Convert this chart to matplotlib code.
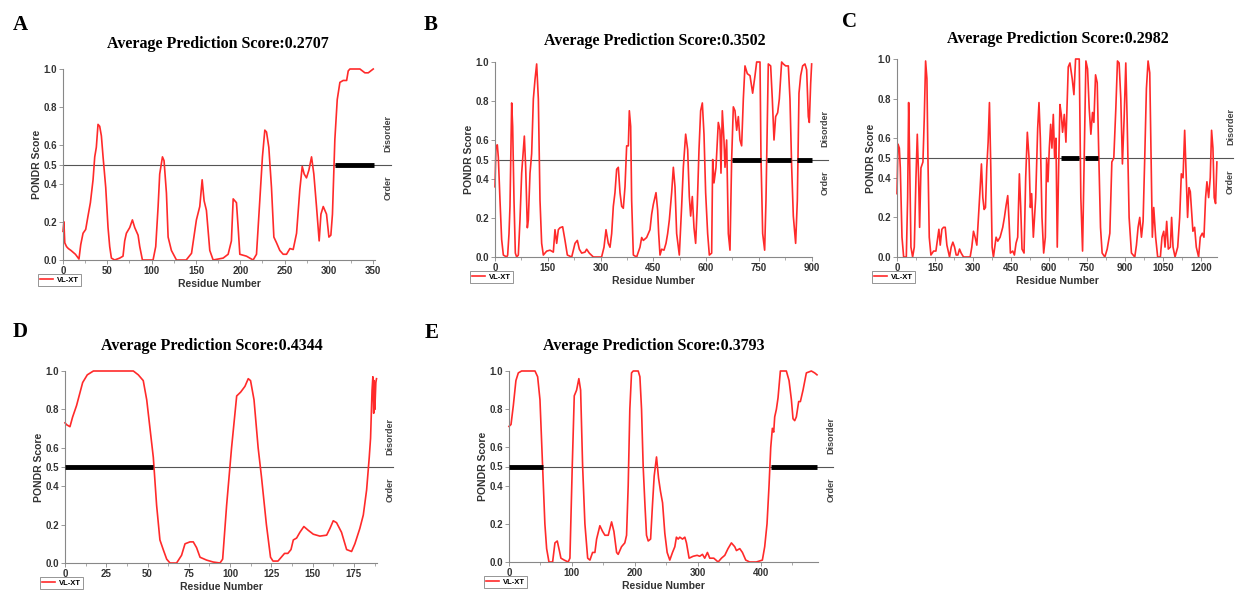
import matplotlib.pyplot as plt
from matplotlib.ticker import MultipleLocator

plt.rcParams['font.family'] = ['Liberation Sans', 'DejaVu Sans']
plt.rcParams['font.weight'] = 'bold'
plt.rcParams['axes.labelweight'] = 'bold'

W, H = 1235, 592

# ---- datos (residuo, puntuacion PONDR) ----
a_pts = [(0, 0.15), (1, 0.2), (2, 0.09), (4, 0.07), (6, 0.06), (9, 0.05), (14, 0.03), (18, 0.005),
         (20, 0.08), (22.6, 0.14), (25.6, 0.16), (28.2, 0.23), (30.9, 0.30), (33.9, 0.42), (35.8, 0.54),
         (37.6, 0.59), (39.5, 0.71), (41.4, 0.70), (43.3, 0.65), (45.2, 0.54), (48.2, 0.38), (50.8, 0.17),
         (52.7, 0.07), (54.6, 0.01), (58.3, 0.0), (64, 0.01), (67.7, 0.02), (69.6, 0.10), (71.5, 0.14),
         (75.3, 0.17), (78.3, 0.21), (80.9, 0.17), (84.7, 0.13), (86.6, 0.07), (89.6, 0.0), (101.6, 0.0),
         (104.6, 0.07), (107.3, 0.28), (109.1, 0.45), (112.2, 0.54), (114, 0.52), (116.7, 0.35),
         (118.6, 0.12), (122.3, 0.05), (128, 0.0), (139, 0.0), (145, 0.035), (150.5, 0.21), (154.3, 0.28),
         (157, 0.42), (159.2, 0.31), (161.8, 0.26), (165.6, 0.05), (169.4, 0.0), (180.7, 0.01),
         (186.3, 0.03), (190, 0.10), (192, 0.32), (195.7, 0.30), (197.6, 0.17), (199.5, 0.03), (207, 0.02),
         (214.5, 0.0), (218.3, 0.03), (222, 0.31), (225, 0.54), (227.7, 0.68), (229.6, 0.67), (232.2, 0.59),
         (235.2, 0.38), (237.9, 0.12), (240.9, 0.09), (244.6, 0.05), (248.4, 0.03), (252.2, 0.03),
         (256, 0.06), (259.7, 0.055), (263.5, 0.14), (267.2, 0.37), (269.9, 0.49), (272.1, 0.45),
         (274.7, 0.43), (277.4, 0.47), (280.4, 0.54), (283, 0.45), (286, 0.28), (289, 0.10), (291, 0.24),
         (293.6, 0.28), (297.3, 0.24), (300, 0.12), (302.2, 0.13), (304, 0.24), (306.7, 0.63),
         (309.4, 0.84), (312.4, 0.93), (316.1, 0.94), (320, 0.94), (321.8, 0.99), (323.7, 1.0),
         (335, 1.0), (340.6, 0.98), (344.4, 0.98), (350, 1.0)]
a_bars = [(307, 351)]

b_pts = [(0, 0.36), (2.8, 0.57), (6.6, 0.575), (9.5, 0.51), (14.2, 0.29), (18.9, 0.09), (23.7, 0.01),
         (33.2, 0.0), (36, 0.01), (39.8, 0.12), (42.6, 0.26), (47.4, 0.79), (50.2, 0.67), (54, 0.29),
         (57.8, 0.02), (61.6, 0.0), (66.3, 0.01), (71, 0.19), (75.8, 0.43), (83.4, 0.62), (87.2, 0.46),
         (91.9, 0.15), (94.7, 0.19), (99.5, 0.43), (104.2, 0.53), (109, 0.81), (113.7, 0.91), (118.4, 0.99),
         (123.2, 0.81), (127.9, 0.29), (132.6, 0.07), (137.4, 0.01), (146.8, 0.03), (156.3, 0.035),
         (165.8, 0.025), (170.5, 0.14), (175.3, 0.07), (180, 0.14), (184.7, 0.15), (192.3, 0.155),
         (199, 0.085), (205.6, 0.01), (218, 0.0), (227.4, 0.07), (234, 0.085), (239.7, 0.04), (246.3, 0.02),
         (255.8, 0.025), (260.5, 0.04), (268, 0.02), (279.5, 0.0), (303, 0.0), (309.8, 0.05), (315.5, 0.14),
         (322, 0.07), (326.9, 0.05), (331.6, 0.12), (336.3, 0.26), (341, 0.33), (345.8, 0.45), (350.5, 0.46),
         (355.3, 0.33), (360, 0.26), (364.7, 0.25), (369.5, 0.36), (374.2, 0.57), (379, 0.57), (381.8, 0.75),
         (385.6, 0.67), (388.4, 0.29), (393.2, 0.01), (402.6, 0.0), (412, 0.05), (416.9, 0.10),
         (421.6, 0.085), (431, 0.10), (440.5, 0.14), (445.3, 0.22), (450, 0.27), (457.6, 0.33), (462.3, 0.24),
         (465.2, 0.12), (469, 0.01), (473.7, 0.04), (480.3, 0.035), (486, 0.07), (490.7, 0.12), (495.5, 0.19),
         (502.1, 0.33), (506.9, 0.46), (511.6, 0.36), (516.3, 0.12), (523.9, 0.01), (530.5, 0.26),
         (535.3, 0.46), (541.9, 0.63), (547.6, 0.55), (552.3, 0.31), (556.1, 0.21), (560.8, 0.31),
         (565.6, 0.15), (570.3, 0.07), (575, 0.27), (579.8, 0.55), (584.5, 0.75), (589.3, 0.79), (594, 0.63),
         (598.7, 0.33), (604.4, 0.12), (609.2, 0.01), (615.8, 0.02), (618.7, 0.5), (622.4, 0.38),
         (628.1, 0.46), (634.7, 0.69), (639.5, 0.65), (642.3, 0.43), (646.1, 0.75), (650.8, 0.6),
         (653.7, 0.46), (658.4, 0.6), (663.2, 0.12), (667.9, 0.035), (672.6, 0.5), (677.4, 0.77),
         (682.1, 0.75), (686.9, 0.65), (691.6, 0.72), (696.3, 0.6), (701, 0.57), (705.8, 0.81), (710.5, 0.98),
         (717.2, 0.94), (724.8, 0.93), (732.3, 0.84), (739, 0.93), (743.7, 1.0), (753.2, 1.0), (756, 0.51),
         (760.8, 0.12), (766.4, 0.035), (770.2, 0.29), (776.8, 0.99), (783.5, 0.98), (788.2, 0.81),
         (793, 0.6), (797.7, 0.72), (803.4, 0.74), (808.1, 0.81), (814.7, 1.0), (819.5, 0.99), (826.1, 0.98),
         (833.7, 0.98), (838.4, 0.81), (843.2, 0.46), (847.9, 0.21), (854.5, 0.07), (859.3, 0.29),
         (864, 0.84), (868.8, 0.93), (874.4, 0.98), (881, 0.99), (885.8, 0.96), (890.5, 0.72),
         (893.4, 0.69), (897.2, 0.89), (900, 0.99)]
b_bars = [(675, 757), (774, 841), (859, 900)]

c_pts = [(0, 0.32), (3.9, 0.57), (9.2, 0.55), (13, 0.45), (19.7, 0.1), (26.2, 0.0), (36.7, 0.0), (42, 0.3),
         (45.9, 0.78), (49.8, 0.5), (55, 0.05), (61.6, 0.0), (68.2, 0.05), (74.8, 0.4), (80, 0.62),
         (85.2, 0.4), (89.2, 0.15), (94.4, 0.45), (102.3, 0.48), (107.5, 0.7), (112.8, 0.99), (118, 0.9),
         (122, 0.5), (127.2, 0.1), (133.8, 0.01), (144.3, 0.03), (153.4, 0.03), (160, 0.09), (165.2, 0.14),
         (170.5, 0.06), (177, 0.14), (183.6, 0.15), (190.2, 0.15), (196.7, 0.06), (207.2, 0.0), (213.8, 0.05),
         (220.3, 0.075), (227, 0.05), (233.4, 0.01), (240, 0.01), (246.6, 0.04), (253, 0.02), (262.3, 0.0),
         (288.5, 0.0), (295, 0.05), (301.6, 0.13), (308, 0.1), (314.8, 0.06), (321.3, 0.2), (328, 0.35),
         (333, 0.47), (338.4, 0.3), (343.6, 0.24), (348.9, 0.25), (354, 0.45), (359.4, 0.58), (364.6, 0.78),
         (369.9, 0.45), (375.1, 0.05), (380.3, 0.0), (390.8, 0.1), (397.4, 0.08), (406.6, 0.1), (417, 0.15),
         (423.6, 0.2), (430.2, 0.26), (436.7, 0.31), (442, 0.18), (447.2, 0.02), (456.4, 0.03), (463, 0.01),
         (469.5, 0.07), (476, 0.1), (482.6, 0.42), (487.9, 0.25), (493, 0.04), (501, 0.02), (507.5, 0.4),
         (514, 0.63), (520.7, 0.5), (526, 0.25), (531, 0.32), (537.7, 0.1), (547, 0.3), (554.8, 0.65),
         (560, 0.78), (565.3, 0.6), (571.8, 0.2), (578.4, 0.02), (585, 0.1), (590, 0.5), (595.4, 0.38),
         (600.7, 0.55), (606, 0.67), (611, 0.55), (616.4, 0.72), (621.6, 0.5), (626.9, 0.6), (632, 0.05),
         (637.4, 0.45), (642.6, 0.77), (647.9, 0.72), (653, 0.63), (659.7, 0.72), (666.2, 0.58),
         (675.4, 0.96), (682, 0.98), (691, 0.9), (697.7, 0.82), (704.3, 1.0), (718.7, 1.0), (725, 0.3),
         (731.8, 0.03), (738.4, 0.5), (745, 0.99), (751.5, 0.95), (758, 0.75), (764.6, 0.62), (771, 0.73),
         (776.4, 0.68), (783, 0.92), (789.6, 0.88), (796, 0.5), (802.6, 0.15), (809, 0.02), (819.7, 0.0),
         (828.9, 0.04), (839.4, 0.12), (847.3, 0.48), (855, 0.5), (863, 0.75), (869.5, 0.99), (876, 0.98),
         (882.6, 0.8), (889, 0.47), (895.7, 0.7), (902.3, 0.98), (907.5, 0.7), (915.4, 0.2), (924.6, 0.02),
         (937.7, 0.0), (944.3, 0.06), (950.8, 0.15), (957.4, 0.2), (964, 0.1), (970.5, 0.18), (977, 0.5),
         (983.6, 0.85), (990.2, 0.99), (996.8, 0.93), (1003.3, 0.4), (1007, 0.1), (1012.5, 0.25),
         (1020, 0.1), (1028, 0.0), (1038.7, 0.0), (1045, 0.1), (1052, 0.13), (1057, 0.05), (1063.6, 0.18),
         (1070, 0.04), (1078, 0.05), (1083, 0.2), (1088.6, 0.05), (1096.5, 0.0), (1107, 0.05),
         (1114.8, 0.2), (1121.3, 0.42), (1128, 0.4), (1134.5, 0.64), (1141, 0.4), (1146, 0.2),
         (1151.5, 0.35), (1156.7, 0.33), (1163.3, 0.2), (1167, 0.13), (1173.8, 0.15), (1180.3, 0.05),
         (1189.5, 0.0), (1196, 0.1), (1204, 0.12), (1210.5, 0.1), (1217, 0.3), (1222.3, 0.38), (1229, 0.3),
         (1235.4, 0.4), (1240.6, 0.64), (1246, 0.55), (1251, 0.3), (1256.4, 0.27), (1261.6, 0.48)]
c_bars = [(645, 719), (741, 793)]

d_pts = [(0, 0.73), (1, 0.72), (3, 0.71), (4.6, 0.76), (7, 0.82), (10.7, 0.94), (13.5, 0.98), (17.2, 1.0),
         (41.4, 1.0), (44.4, 0.98), (47.4, 0.95), (49.5, 0.85), (51.5, 0.7), (53.5, 0.55), (55.5, 0.3),
         (57.5, 0.12), (59.5, 0.07), (61.6, 0.02), (63.6, 0.0), (67.6, 0.0), (70.6, 0.04), (72.7, 0.1),
         (75.7, 0.11), (77.7, 0.11), (79.7, 0.08), (81.8, 0.03), (85.8, 0.015), (89.8, 0.005), (93.9, 0.0),
         (95.5, 0.02), (97.9, 0.3), (100.9, 0.6), (104, 0.87), (106.4, 0.89), (109, 0.92), (111, 0.96),
         (112.4, 0.95), (114.5, 0.85), (117, 0.6), (119, 0.45), (122, 0.2), (124.5, 0.03), (126, 0.01),
         (129, 0.01), (131, 0.03), (133, 0.05), (135, 0.05), (136.9, 0.07), (138.3, 0.12), (140.3, 0.13),
         (142.3, 0.16), (144.7, 0.19), (147.4, 0.17), (150.4, 0.15), (154.4, 0.14), (158.5, 0.145),
         (160.5, 0.18), (162.5, 0.22), (164.5, 0.21), (167.5, 0.16), (170.6, 0.07), (173.6, 0.06),
         (175.6, 0.1), (178.6, 0.18), (180.7, 0.25), (182.7, 0.38), (184.3, 0.55), (185.1, 0.65),
         (186, 0.9), (186.5, 0.97), (187, 0.78), (187.3, 0.95), (187.7, 0.8), (188.3, 0.94), (188.7, 0.96)]
d_bars = [(0, 53.5)]

e_pts = [(0, 0.71), (3.2, 0.72), (6.9, 0.82), (11, 0.95), (14.8, 0.99), (20, 1.0), (41.3, 1.0), (45.5, 0.97),
         (49.2, 0.85), (53.4, 0.5), (57, 0.2), (59.8, 0.07), (63.5, 0.0), (69.3, 0.0), (73, 0.1), (76.7, 0.11),
         (80, 0.06), (82.5, 0.02), (87.8, 0.01), (94, 0.0), (96.8, 0.02), (100.5, 0.5), (103.7, 0.87),
         (107.4, 0.9), (111, 0.96), (113.8, 0.9), (117, 0.5), (120.6, 0.2), (125, 0.02), (128.6, 0.01),
         (132.8, 0.05), (136.5, 0.05), (139.2, 0.12), (144.4, 0.19), (148.7, 0.16), (152.4, 0.14),
         (157.7, 0.14), (163, 0.21), (166.7, 0.16), (171, 0.05), (173.5, 0.04), (178.8, 0.08), (184, 0.1),
         (186.8, 0.14), (189.4, 0.4), (192, 0.8), (194.7, 0.99), (197.4, 1.0), (205.3, 1.0), (208, 0.97),
         (210.6, 0.8), (213.2, 0.5), (216, 0.3), (218.5, 0.14), (221.2, 0.11), (225, 0.12), (228, 0.3),
         (230.7, 0.45), (234.4, 0.55), (237.6, 0.44), (240.7, 0.37), (244, 0.31), (247.6, 0.15),
         (251.3, 0.05), (255.5, 0.01), (259.8, 0.05), (263.5, 0.08), (266, 0.13), (268.8, 0.12),
         (271.4, 0.13), (275.7, 0.12), (279.4, 0.13), (282, 0.1), (286.2, 0.02), (292.6, 0.03), (299, 0.035),
         (303, 0.03), (307.4, 0.04), (311, 0.02), (315.3, 0.05), (319, 0.02), (325.4, 0.02), (332.3, 0.0),
         (337.6, 0.02), (342.9, 0.035), (348, 0.07), (353.4, 0.1), (358.7, 0.08), (361.4, 0.06),
         (366.7, 0.07), (370.9, 0.05), (376.2, 0.01), (382.5, 0.0), (393, 0.0), (402.6, 0.01), (406.3, 0.08),
         (410, 0.2), (413.2, 0.4), (415.9, 0.6), (418.5, 0.7), (420.6, 0.68), (422.2, 0.76), (424.9, 0.8),
         (427.5, 0.86), (431.2, 1.0), (440.7, 1.0), (445, 0.95), (448.7, 0.85), (451.3, 0.75), (454, 0.74),
         (456.6, 0.76), (460.3, 0.84), (463, 0.84), (467.2, 0.9), (472.5, 0.99), (480.4, 1.0), (485.7, 0.99),
         (489.4, 0.98)]
e_bars = [(0, 53.4), (417, 489)]

scores = ['0.2707', '0.3502', '0.2982', '0.4344', '0.3793']
letras = ['A', 'B', 'C', 'D', 'E']
y_ticks = [0.0, 0.2, 0.4, 0.5, 0.6, 0.8, 1.0]

fig = plt.figure(figsize=(W / 100, H / 100), dpi=100)


def panel(caja, pts, bars, xmax, paso, score, letra, pos_letra, pos_titulo):
    x0, x1, yt, yb = caja
    ax = fig.add_axes([x0 / W, 1 - yb / H, (x1 - x0) / W, (yb - yt) / H])
    xs = [p[0] for p in pts]
    ys = [p[1] for p in pts]
    ax.plot([0, 1.05], [0.5, 0.5], transform=ax.get_yaxis_transform(), color='#555555',
            lw=0.8, clip_on=False, zorder=1)
    for b0, b1 in bars:
        ax.plot([b0, b1], [0.5, 0.5], color='black', lw=3.5, solid_capstyle='butt',
                clip_on=False, zorder=3)
    ax.plot(xs, ys, color='#ff2a2a', lw=1.2, clip_on=False, zorder=2, label='VL-XT')
    ax.set_xlim(0, xmax)
    ax.set_ylim(0, 1)
    ax.set_yticks(y_ticks)
    ax.set_yticklabels(['%.1f' % v for v in y_ticks])
    ax.xaxis.set_major_locator(MultipleLocator(paso))
    ax.xaxis.set_minor_locator(MultipleLocator(paso / 2))
    for s in ['top', 'right']:
        ax.spines[s].set_visible(False)
    for s in ['left', 'bottom']:
        ax.spines[s].set_color('#888888')
        ax.spines[s].set_linewidth(0.8)
    ax.tick_params(labelsize=7, labelcolor='#333333', color='#888888', length=3, width=0.6, pad=1.5)
    ax.tick_params(which='minor', color='#888888', length=2, width=0.5)
    ax.set_xlabel('Residue Number', fontsize=7.5, color='#333333', labelpad=2)
    ax.set_ylabel('PONDR Score', fontsize=7.5, color='#333333', labelpad=1)
    ax.text(1.042, 0.66, 'Disorder', transform=ax.transAxes, rotation=90, ha='center', va='center',
            fontsize=6.5, color='#444444')
    ax.text(1.042, 0.38, 'Order', transform=ax.transAxes, rotation=90, ha='center', va='center',
            fontsize=6.5, color='#444444')
    leg = ax.legend(loc='upper left', bbox_to_anchor=(-25 / (x1 - x0), -14 / (yb - yt)), fontsize=5.5,
                    frameon=True, fancybox=False, edgecolor='#666666', handlelength=1.6, borderpad=0.3,
                    borderaxespad=0, handletextpad=0.6)
    leg.get_frame().set_linewidth(0.6)
    fig.text(pos_titulo[0] / W, 1 - pos_titulo[1] / H, 'Average Prediction Score:' + score,
             ha='center', va='center', fontsize=11.5, family='Liberation Serif', weight='bold')
    fig.text(pos_letra[0] / W, 1 - pos_letra[1] / H, letra, ha='center', va='center',
             fontsize=15, family='Liberation Serif', weight='bold')
    return ax


panel((63, 375, 69, 260), a_pts, a_bars, 352, 50, scores[0], letras[0], (20, 25), (218, 44))
panel((495, 812, 62, 257), b_pts, b_bars, 901, 150, scores[1], letras[1], (431, 25), (655, 41))
panel((897, 1217, 59, 257), c_pts, c_bars, 1262, 150, scores[2], letras[2], (850, 22), (1058, 39))
panel((65, 377, 371, 563), d_pts, d_bars, 189, 25, scores[3], letras[3], (20, 332), (212, 346))
panel((509, 818, 371, 562), e_pts, e_bars, 491, 100, scores[4], letras[4], (432, 333), (654, 346))

fig.savefig('out.png', dpi=100)
